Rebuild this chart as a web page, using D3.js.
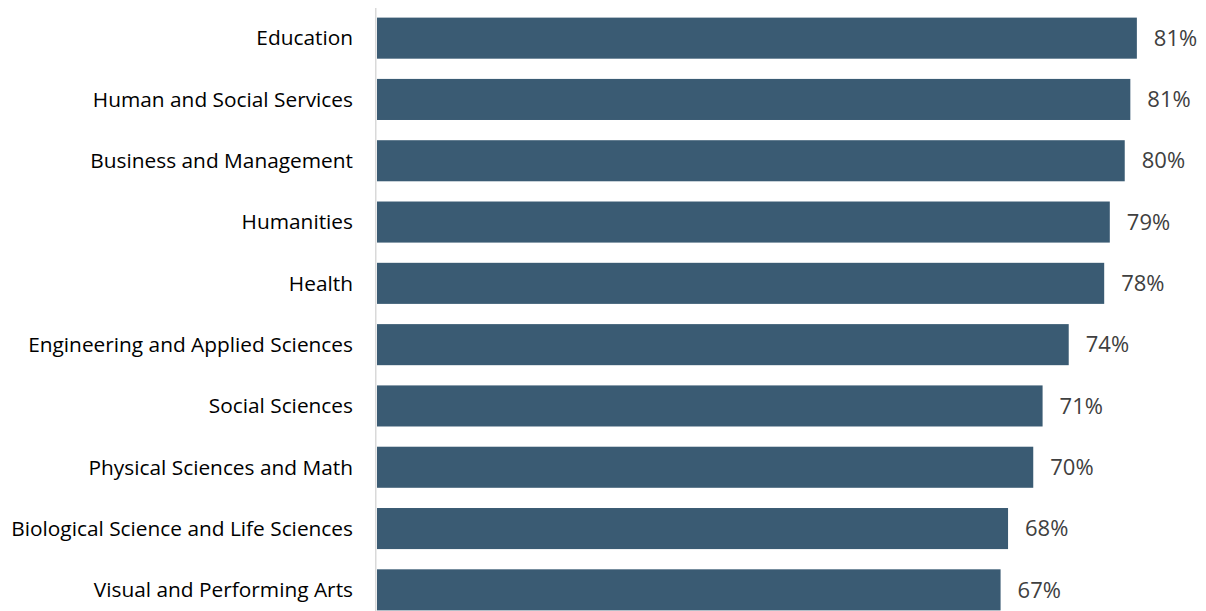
<!DOCTYPE html>
<html><head><meta charset="utf-8">
<script src="https://cdn.jsdelivr.net/npm/d3@7"></script>
<style>body{margin:0;background:#fff}svg{display:block}</style>
</head><body>
<svg id="chart" width="1206" height="611"></svg>
<script>
const categories = ["Education","Human and Social Services","Business and Management","Humanities","Health","Engineering and Applied Sciences","Social Sciences","Physical Sciences and Math","Biological Science and Life Sciences","Visual and Performing Arts"];
const values = [81.4, 80.7, 80.1, 78.5, 77.9, 74.1, 71.3, 70.3, 67.6, 66.8];
const valueLabels = ["81%","81%","80%","79%","78%","74%","71%","70%","68%","67%"];

const svg = d3.select("#chart");
const x0 = 377;
const x = d3.scaleLinear().domain([0, 100]).range([x0, x0 + 933.5]);
const y = d3.scaleBand().domain(categories).range([7.5, 620.5]).paddingInner(0.33).paddingOuter(0.165);

svg.append("g").selectAll("rect").data(categories).join("rect")
  .attr("x", x(0))
  .attr("y", d => y(d))
  .attr("width", (d,i) => x(values[i]) - x(0))
  .attr("height", y.bandwidth())
  .attr("fill", "#3A5B73");

svg.append("line").attr("x1", 375.75).attr("x2", 375.75).attr("y1", 8).attr("y2", 611)
  .attr("stroke", "#D9D9D9").attr("stroke-width", 1.5);

svg.append("g").selectAll("text").data(categories).join("text")
  .attr("x", 353)
  .attr("y", d => y(d) + y.bandwidth()/2)
  .attr("dy", "0.35em")
  .attr("text-anchor", "end")
  .attr("font-family", "'Open Sans', sans-serif")
  .attr("font-size", 20.85)
  .attr("fill", "#000")
  .text(d => d);

svg.append("g").selectAll("text").data(categories).join("text")
  .attr("x", (d,i) => x(values[i]) + 17)
  .attr("y", d => y(d) + y.bandwidth()/2)
  .attr("dy", "0.35em")
  .attr("font-family", "'Open Sans', sans-serif")
  .attr("font-size", 22)
  .attr("fill", "#404040")
  .text((d,i) => valueLabels[i]);
</script>
</body></html>
